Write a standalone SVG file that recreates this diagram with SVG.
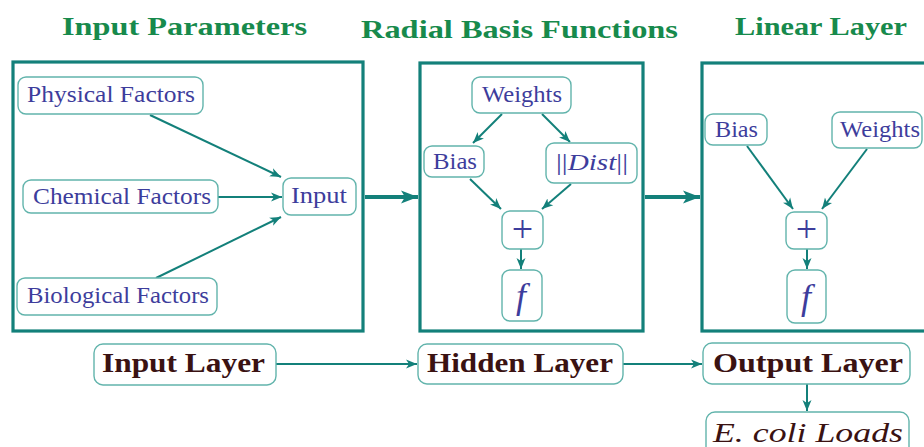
<svg xmlns="http://www.w3.org/2000/svg" width="924" height="447" viewBox="0 0 924 447">
  <style>
    .panel { fill: none; stroke: #13807a; stroke-width: 3.2; }
    .node { fill: #ffffff; stroke: #62b4ac; stroke-width: 1.4; }
    .title { font-family: "Liberation Serif", "DejaVu Serif", serif; font-weight: bold; font-size: 26px; fill: #178a4c; }
    .lbl { font-family: "Liberation Serif", "DejaVu Serif", serif; font-size: 23px; fill: #3d3d9c; }
    .it { font-style: italic; }
    .layer { font-family: "Liberation Serif", "DejaVu Serif", serif; font-weight: bold; font-size: 27px; fill: #3a1212; }
    .edge { fill: none; stroke: #13807a; stroke-width: 2; }
    .thick { fill: none; stroke: #13807a; stroke-width: 4; }
  </style>
  <defs>
    <marker id="arr" markerUnits="userSpaceOnUse" markerWidth="12" markerHeight="10" refX="11" refY="5" orient="auto">
      <path d="M0,0.5 L11,5 L0,9.5 L3,5 z" fill="#13807a"/>
    </marker>
    <marker id="arrBig" markerUnits="userSpaceOnUse" markerWidth="18" markerHeight="14" refX="17" refY="7" orient="auto">
      <path d="M0,0.5 L17,7 L0,13.5 L4,7 z" fill="#13807a"/>
    </marker>
  </defs>

  <!-- section titles -->
  <text class="title" x="62" y="35" textLength="245" lengthAdjust="spacingAndGlyphs">Input Parameters</text>
  <text class="title" x="361" y="38" textLength="317" lengthAdjust="spacingAndGlyphs">Radial Basis Functions</text>
  <text class="title" x="735" y="35" textLength="172" lengthAdjust="spacingAndGlyphs">Linear Layer</text>

  <!-- panels -->
  <g id="panel-input"><rect class="panel" x="13" y="62" width="350" height="269"/></g>
  <g id="panel-rbf"><rect class="panel" x="420" y="63" width="223" height="268"/></g>
  <g id="panel-linear"><rect class="panel" x="702" y="63" width="240" height="268"/></g>

  <!-- connectors -->
  <g id="connectors">
    <line class="thick" x1="365" y1="197" x2="418" y2="197" marker-end="url(#arrBig)"/>
    <line class="thick" x1="645" y1="197" x2="700" y2="197" marker-end="url(#arrBig)"/>

    <line class="edge" x1="150" y1="115" x2="281" y2="177" marker-end="url(#arr)"/>
    <line class="edge" x1="218" y1="197" x2="282" y2="197" marker-end="url(#arr)"/>
    <line class="edge" x1="156" y1="278" x2="281" y2="217" marker-end="url(#arr)"/>

    <line class="edge" x1="502" y1="114" x2="473" y2="143" marker-end="url(#arr)"/>
    <line class="edge" x1="542" y1="114" x2="570" y2="142" marker-end="url(#arr)"/>
    <line class="edge" x1="470" y1="179" x2="501" y2="209" marker-end="url(#arr)"/>
    <line class="edge" x1="571" y1="184" x2="542" y2="209" marker-end="url(#arr)"/>
    <line class="edge" x1="521" y1="249" x2="521" y2="269" marker-end="url(#arr)"/>

    <line class="edge" x1="747" y1="146" x2="793" y2="209" marker-end="url(#arr)"/>
    <line class="edge" x1="867" y1="149" x2="822" y2="209" marker-end="url(#arr)"/>
    <line class="edge" x1="807" y1="249" x2="807" y2="269" marker-end="url(#arr)"/>

    <line class="edge" x1="276" y1="364" x2="417" y2="364" marker-end="url(#arr)"/>
    <line class="edge" x1="623" y1="364" x2="702" y2="364" marker-end="url(#arr)"/>
    <line class="edge" x1="807" y1="384" x2="807" y2="411" marker-end="url(#arr)"/>
  </g>

  <!-- input parameter nodes -->
  <g id="n-physical">
    <rect class="node" x="18" y="77" width="185" height="37" rx="8"/>
    <text class="lbl" x="27" y="102" textLength="168" lengthAdjust="spacingAndGlyphs">Physical Factors</text>
  </g>
  <g id="n-chemical">
    <rect class="node" x="23" y="180" width="195" height="33" rx="8"/>
    <text class="lbl" x="33" y="204" textLength="178" lengthAdjust="spacingAndGlyphs">Chemical Factors</text>
  </g>
  <g id="n-biological">
    <rect class="node" x="17" y="278" width="200" height="37" rx="8"/>
    <text class="lbl" x="27" y="303" textLength="182" lengthAdjust="spacingAndGlyphs">Biological Factors</text>
  </g>
  <g id="n-input">
    <rect class="node" x="283" y="178" width="73" height="37" rx="8"/>
    <text class="lbl" x="291" y="203" textLength="56" lengthAdjust="spacingAndGlyphs">Input</text>
  </g>

  <!-- radial basis function nodes -->
  <g id="n-rbf-weights">
    <rect class="node" x="472" y="77" width="99" height="36" rx="8"/>
    <text class="lbl" x="482" y="102" textLength="80" lengthAdjust="spacingAndGlyphs">Weights</text>
  </g>
  <g id="n-rbf-bias">
    <rect class="node" x="424" y="146" width="60" height="31" rx="8"/>
    <text class="lbl" x="433" y="169" textLength="44" lengthAdjust="spacingAndGlyphs">Bias</text>
  </g>
  <g id="n-rbf-dist">
    <rect class="node" x="546" y="143" width="91" height="40" rx="8"/>
    <text class="lbl" x="556" y="170" textLength="72" lengthAdjust="spacingAndGlyphs">||<tspan class="it">Dist</tspan>||</text>
  </g>
  <g id="n-rbf-sum">
    <rect class="node" x="502" y="211" width="41" height="38" rx="8"/>
    <text class="lbl" x="522.5" y="242" text-anchor="middle" style="font-size:38px">+</text>
  </g>
  <g id="n-rbf-f">
    <rect class="node" x="502" y="270" width="40" height="51" rx="8"/>
    <text class="lbl it" x="521" y="308" text-anchor="middle" style="font-size:36px">f</text>
  </g>

  <!-- linear layer nodes -->
  <g id="n-lin-bias">
    <rect class="node" x="705" y="114" width="62" height="31" rx="8"/>
    <text class="lbl" x="715" y="137" textLength="43" lengthAdjust="spacingAndGlyphs">Bias</text>
  </g>
  <g id="n-lin-weights">
    <rect class="node" x="832" y="112" width="90" height="36" rx="8"/>
    <text class="lbl" x="840" y="137" textLength="80" lengthAdjust="spacingAndGlyphs">Weights</text>
  </g>
  <g id="n-lin-sum">
    <rect class="node" x="786" y="212" width="41" height="37" rx="8"/>
    <text class="lbl" x="806.5" y="242" text-anchor="middle" style="font-size:38px">+</text>
  </g>
  <g id="n-lin-f">
    <rect class="node" x="787" y="270" width="39" height="53" rx="8"/>
    <text class="lbl it" x="806" y="309" text-anchor="middle" style="font-size:36px">f</text>
  </g>

  <!-- layer flow -->
  <g id="n-input-layer">
    <rect class="node" x="94" y="344" width="182" height="41" rx="9"/>
    <text class="layer" x="102" y="372" textLength="163" lengthAdjust="spacingAndGlyphs">Input Layer</text>
  </g>
  <g id="n-hidden-layer">
    <rect class="node" x="418" y="344" width="205" height="40" rx="9"/>
    <text class="layer" x="427" y="372" textLength="186" lengthAdjust="spacingAndGlyphs">Hidden Layer</text>
  </g>
  <g id="n-output-layer">
    <rect class="node" x="703" y="343" width="207" height="41" rx="9"/>
    <text class="layer" x="713" y="372" textLength="190" lengthAdjust="spacingAndGlyphs">Output Layer</text>
  </g>
  <g id="n-ecoli">
    <rect class="node" x="706" y="412" width="203" height="45" rx="9"/>
    <text class="layer it" x="713" y="442" textLength="190" lengthAdjust="spacingAndGlyphs" style="font-weight:normal">E. coli Loads</text>
  </g>
</svg>
